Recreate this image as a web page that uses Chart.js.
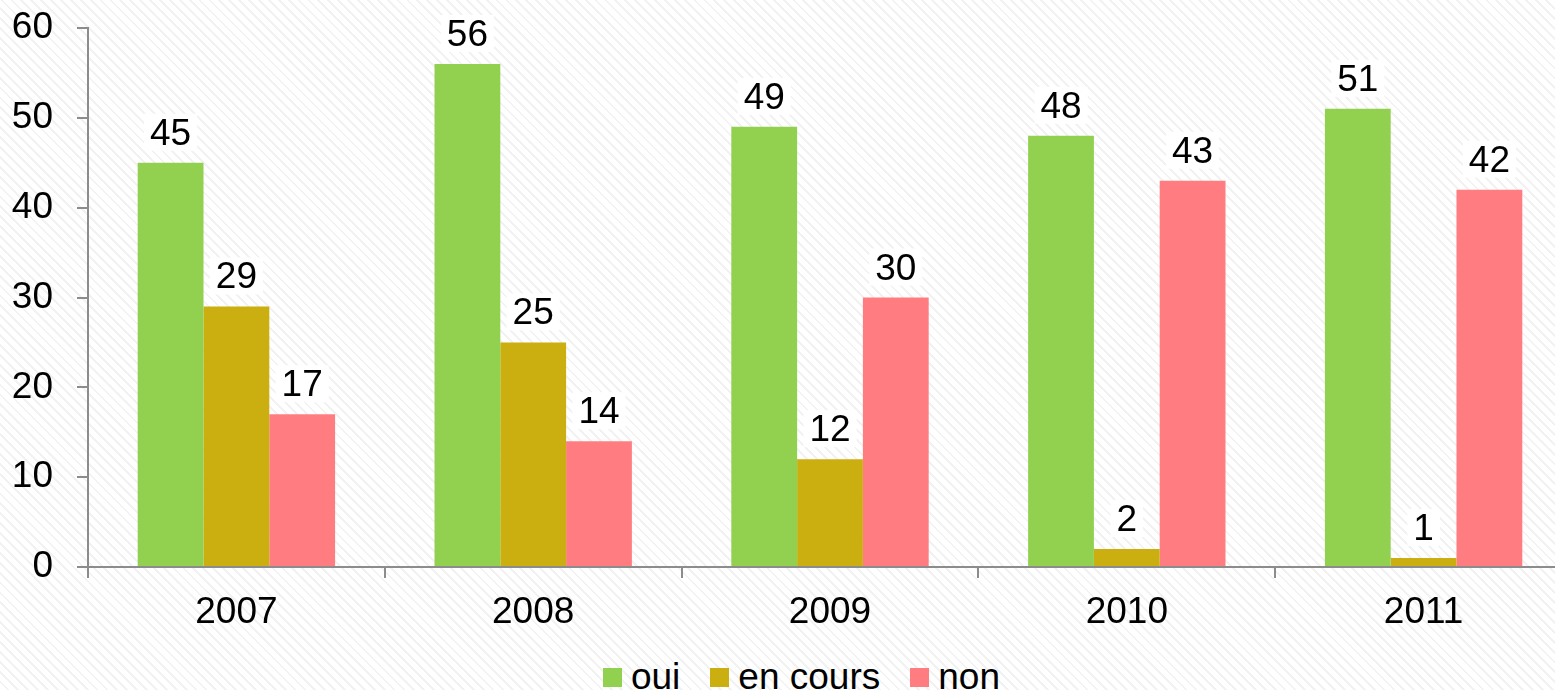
<!DOCTYPE html>
<html>
<head>
<meta charset="utf-8">
<script src="https://cdn.jsdelivr.net/npm/chart.js@4/dist/chart.umd.min.js"></script>
<style>
    html, body { margin: 0; padding: 0; overflow: hidden; }
    body {
        width: 1555px; height: 690px; position: relative;
        background: repeating-linear-gradient(45deg, #ffffff 0px, #ffffff 5px, #f2f2f2 5px, #f2f2f2 7px);
        font-family: "Liberation Sans", Arial, sans-serif;
    }
    #wrap { position: absolute; left: 0; top: 0; width: 1572px; height: 640px; }
    #legend {
        position: absolute; left: 24px; width: 1555px; top: 656px;
        display: flex; justify-content: center; gap: 30px;
        font-size: 37px; line-height: 42px; color: #000;
    }
    #legend .item { display: flex; align-items: center; }
    #legend .box { width: 19px; height: 19px; margin-right: 9px; }
</style>
</head>
<body>
<div id="wrap"><canvas id="chart"></canvas></div>
<div id="legend"></div>
<script>
const annees = ['2007', '2008', '2009', '2010', '2011'];
const oui = [45, 56, 49, 48, 51];
const enCours = [29, 25, 12, 2, 1];
const non = [17, 14, 30, 43, 42];
const ticksY = [0, 10, 20, 30, 40, 50, 60];

const series = [
    { label: 'oui', data: oui, color: '#92d050' },
    { label: 'en cours', data: enCours, color: '#cbae0f' },
    { label: 'non', data: non, color: '#ff7c80' }
];

const FONT = '"Liberation Sans", Arial, sans-serif';
const TAILLE = 37;

// valeurs au-dessus des barres
const valeursPlugin = {
    id: 'valeurs',
    afterDatasetsDraw(chart) {
        const ctx = chart.ctx;
        ctx.save();
        ctx.font = TAILLE + 'px ' + FONT;
        ctx.textAlign = 'center';
        ctx.textBaseline = 'alphabetic';
        chart.data.datasets.forEach((ds, i) => {
            chart.getDatasetMeta(i).data.forEach((bar, j) => {
                const txt = String(ds.data[j]);
                const w = ctx.measureText(txt).width;
                const y = bar.y - 18;
                ctx.fillStyle = '#ffffff';
                ctx.fillRect(bar.x - w / 2 - 6, y - 31, w + 12, 37);
                ctx.fillStyle = '#000000';
                ctx.fillText(txt, bar.x, y);
            });
        });
        ctx.restore();
    }
};

const chart = new Chart(document.getElementById('chart'), {
    type: 'bar',
    data: {
        labels: annees,
        datasets: series.map(s => ({
            label: s.label,
            data: s.data,
            backgroundColor: s.color,
            borderWidth: 0,
            barPercentage: 1,
            categoryPercentage: 0.665
        }))
    },
    options: {
        responsive: true,
        maintainAspectRatio: false,
        animation: false,
        layout: { padding: { top: 28, left: 0, right: 0, bottom: 0 } },
        scales: {
            x: {
                grid: { offset: true, drawOnChartArea: false, drawTicks: true, tickLength: 11, color: '#8c8c8c', lineWidth: 2 },
                border: { display: true, color: '#8c8c8c', width: 2 },
                ticks: { color: '#000', font: { size: TAILLE, family: FONT }, padding: 13 },
                afterFit: s => { s.height = 73; s.paddingLeft = 0; s.paddingRight = 0; }
            },
            y: {
                min: 0,
                max: 60,
                afterBuildTicks: s => { s.ticks = ticksY.map(v => ({ value: v })); },
                grid: { drawOnChartArea: false, drawTicks: true, tickLength: 11, color: '#8c8c8c', lineWidth: 2 },
                border: { display: true, color: '#8c8c8c', width: 2 },
                ticks: { color: '#000', font: { size: TAILLE, family: FONT }, padding: 24 },
                afterFit: s => { s.width = 88; s.paddingTop = 0; s.paddingBottom = 0; }
            }
        },
        plugins: {
            legend: { display: false },
            tooltip: { enabled: false }
        }
    },
    plugins: [valeursPlugin]
});

// légende en bas
const legende = document.getElementById('legend');
series.forEach(s => {
    const el = document.createElement('div');
    el.className = 'item';
    el.innerHTML = `<span class="box" style="background:${s.color}"></span><span>${s.label}</span>`;
    legende.appendChild(el);
});
</script>
</body>
</html>
